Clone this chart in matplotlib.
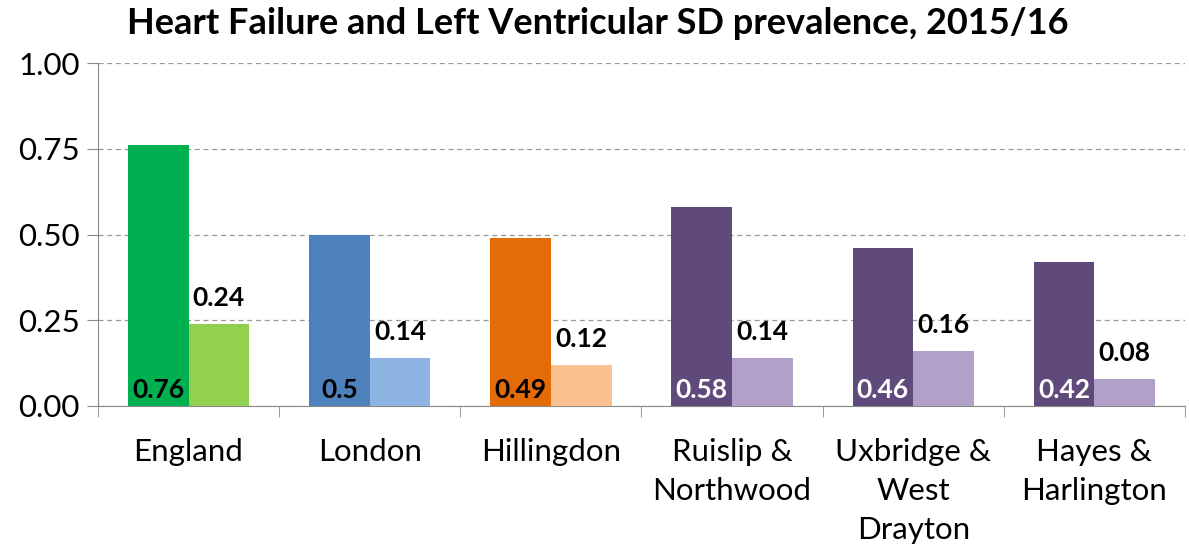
import numpy as np
import matplotlib
matplotlib.use("Agg")
import matplotlib.pyplot as plt

plt.rcParams['font.family'] = ['Lato', 'DejaVu Sans']

areas = ["England", "London", "Hillingdon", "Ruislip &\nNorthwood",
         "Uxbridge &\nWest\nDrayton", "Hayes &\nHarlington"]
hf = [0.76, 0.5, 0.49, 0.58, 0.46, 0.42]
lvsd = [0.24, 0.14, 0.12, 0.14, 0.16, 0.08]
hf_labels = ["0.76", "0.5", "0.49", "0.58", "0.46", "0.42"]
lvsd_labels = ["0.24", "0.14", "0.12", "0.14", "0.16", "0.08"]

dark = ["#00B050", "#4F81BD", "#E36C09", "#604A7B", "#604A7B", "#604A7B"]
light = ["#92D050", "#8DB4E2", "#FAC090", "#B1A0C7", "#B1A0C7", "#B1A0C7"]
dark_txt = ["black", "black", "black", "white", "white", "white"]

fig = plt.figure(figsize=(11.89, 5.49), dpi=100)
ax = fig.add_axes([0.0824, 0.2605, 0.9142, 0.6247])

x = np.arange(len(areas))
w = 0.335
ax.bar(x - w / 2, hf, w, color=dark, zorder=3)
ax.bar(x + w / 2, lvsd, w, color=light, zorder=3)

for i in range(len(areas)):
    ax.text(x[i] - w / 2, 0.012, hf_labels[i], ha='center', va='bottom',
            fontsize=19, fontweight='bold', color=dark_txt[i], zorder=4)
    ax.annotate(lvsd_labels[i], (x[i] + w / 2, lvsd[i]), xytext=(0, 10),
                textcoords='offset points', ha='center', va='bottom',
                fontsize=19, fontweight='bold', color='black', zorder=4)

ax.set_xlim(-0.5, len(areas) - 0.5)
ax.set_ylim(0, 1.0)
ax.set_yticks([0, 0.25, 0.5, 0.75, 1.0])
ax.set_yticklabels(["0.00", "0.25", "0.50", "0.75", "1.00"])
ax.yaxis.grid(True, linestyle=(0, (4, 3)), color='#999999', linewidth=0.9, zorder=0)

ax.set_xticks(x)
ax.set_xticklabels(areas, fontsize=22.5, linespacing=1.48, va='top')
ax.set_xticks(np.arange(len(areas) + 1) - 0.5, minor=True)
ax.tick_params(axis='x', which='major', length=0, pad=23)
ax.tick_params(axis='x', which='minor', length=8, color='#888888', direction='out')
ax.tick_params(axis='y', length=8, color='#888888', labelsize=22.5, pad=5)

for s in ['top', 'right']:
    ax.spines[s].set_visible(False)
for s in ['left', 'bottom']:
    ax.spines[s].set_color('#888888')

fig.text(0.503, 0.958, "Heart Failure and Left Ventricular SD prevalence, 2015/16",
         ha='center', va='center', fontsize=26, fontweight='bold')

fig.savefig("out.png", dpi=100)
